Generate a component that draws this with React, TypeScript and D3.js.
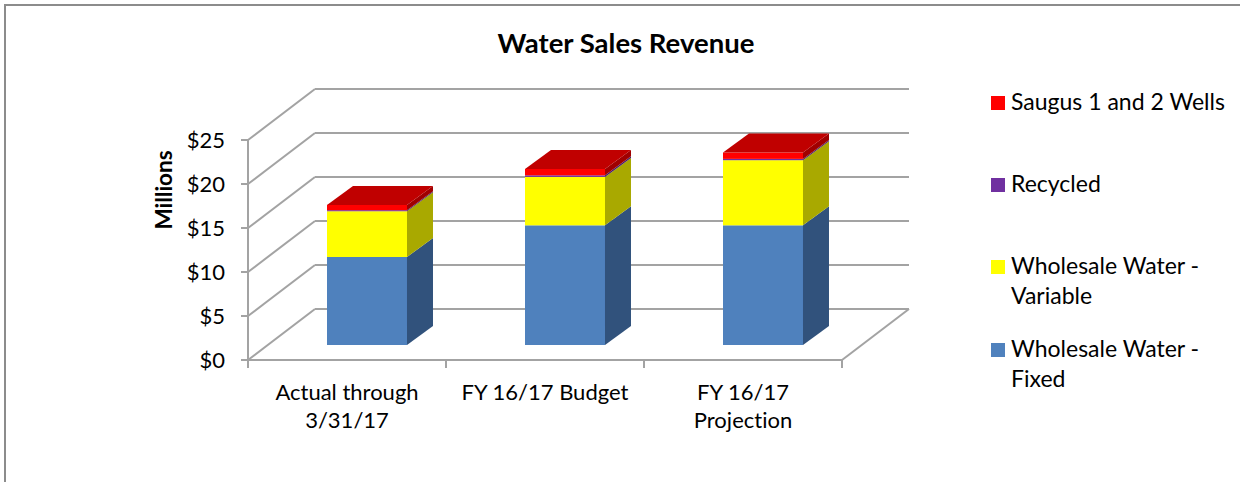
import React from "react";
import * as d3 from "d3";

const categories = ["Actual through\n3/31/17", "FY 16/17 Budget", "FY 16/17\nProjection"];
const seriesNames = ["Wholesale Water - Fixed", "Wholesale Water - Variable", "Recycled", "Saugus 1 and 2 Wells"];
const fixedValues = [10.0, 13.6, 13.6];
const variableValues = [5.2, 5.5, 7.4];
const recycledValues = [0.12, 0.18, 0.15];
const saugusValues = [0.6, 0.72, 0.72];
const yTicks = [0, 5, 10, 15, 20, 25];

const frontColors = ["#4F81BD", "#FFFF00", "#7030A0", "#FF0000"];
const sideColors = ["#31527C", "#A9A900", "#4A1F6B", "#A00000"];
const topColors = ["#6F95C8", "#CCCC00", "#8A4AB8", "#C00000"];

const legendItems = [
  { name: "Saugus 1 and 2 Wells", lines: ["Saugus 1 and 2 Wells"], color: "#FF0000" },
  { name: "Recycled", lines: ["Recycled"], color: "#7030A0" },
  { name: "Wholesale Water - Variable", lines: ["Wholesale Water -", "Variable"], color: "#FFFF00" },
  { name: "Wholesale Water - Fixed", lines: ["Wholesale Water -", "Fixed"], color: "#4F81BD" },
];

const FONT = "Lato, 'Open Sans', sans-serif";
const GRID = "#A3A3A3";

export default function App() {
  const W = 1240, H = 482;
  const x0 = 248, x1 = 842;
  const depthX = 67, depthY = 51;
  const barShiftX = 20, barShiftY = 15;
  const barDepthX = 26, barDepthY = 19;

  const y = d3.scaleLinear().domain([0, 25]).range([360, 140]);
  const x = d3.scaleBand<string>().domain(categories).range([x0, x1]).paddingInner(0.596).paddingOuter(0.298);
  const xTick = d3.scaleLinear().domain([0, categories.length]).range([x0, x1]);

  const rows = categories.map((c, i) => ({
    cat: c,
    s0: fixedValues[i],
    s1: variableValues[i],
    s2: recycledValues[i],
    s3: saugusValues[i],
  }));
  const stack = d3.stack<any>().keys(["s0", "s1", "s2", "s3"])(rows);

  const bw = x.bandwidth();

  const bars: React.ReactNode[] = [];
  categories.forEach((c, ci) => {
    const bx = (x(c) as number) + barShiftX;
    const nLayers = stack.length;
    stack.forEach((layer, li) => {
      const d = layer[ci];
      const yb = y(d[0]) - barShiftY;
      const yt = y(d[1]) - barShiftY;
      const side = `M${bx + bw},${yb} L${bx + bw + barDepthX},${yb - barDepthY} L${bx + bw + barDepthX},${yt - barDepthY} L${bx + bw},${yt} Z`;
      bars.push(
        <g key={`b${ci}-${li}`}>
          <rect x={bx} y={yt} width={bw} height={Math.max(0, yb - yt)} fill={frontColors[li]} />
          <path d={side} fill={sideColors[li]} />
        </g>
      );
      if (li === nLayers - 1) {
        const top = `M${bx},${yt} L${bx + bw},${yt} L${bx + bw + barDepthX},${yt - barDepthY} L${bx + barDepthX},${yt - barDepthY} Z`;
        bars.push(<path key={`t${ci}`} d={top} fill={topColors[li]} />);
      }
    });
  });

  return (
    <svg width={W} height={H} style={{ position: "absolute", left: 0, top: 0, display: "block", background: "#fff", fontVariantLigatures: "none" }} fontFamily={FONT}>
      <rect x={5} y={5} width={W + 10} height={H + 10} fill="#fff" stroke="#8C8C8C" strokeWidth={2} />
      <text x={626} y={53} textAnchor="middle" fontWeight="bold" fontSize={27.5} fill="#000">Water Sales Revenue</text>

      {/* side wall diagonals and back wall gridlines */}
      {yTicks.map((t) => (
        <g key={`g${t}`}>
          <line x1={x0} y1={y(t)} x2={x0 + depthX} y2={y(t) - depthY} stroke={GRID} strokeWidth={2} />
          <line x1={x0 + depthX} y1={y(t) - depthY} x2={x1 + depthX} y2={y(t) - depthY} stroke={GRID} strokeWidth={2} />
        </g>
      ))}
      {/* floor */}
      <line x1={x1} y1={y(0)} x2={x1 + depthX} y2={y(0) - depthY} stroke={GRID} strokeWidth={2} />
      <line x1={x0} y1={y(0)} x2={x1} y2={y(0)} stroke={GRID} strokeWidth={2} />
      {/* y axis */}
      <line x1={x0} y1={y(25)} x2={x0} y2={y(0)} stroke={GRID} strokeWidth={2} />
      {yTicks.map((t) => (
        <g key={`yt${t}`}>
          <line x1={x0 - 7} y1={y(t)} x2={x0} y2={y(t)} stroke={GRID} strokeWidth={2} />
          <text x={225} y={y(t) + 8} textAnchor="end" fontSize={22} fill="#000">{`$${t}`}</text>
        </g>
      ))}
      {d3.range(categories.length + 1).map((i) => (
        <line key={`xt${i}`} x1={xTick(i)} y1={y(0)} x2={xTick(i)} y2={y(0) + 8} stroke={GRID} strokeWidth={2} />
      ))}
      <text transform={`translate(172,190) rotate(-90)`} textAnchor="middle" fontWeight="bold" fontSize={22.5} fill="#000">Millions</text>

      {bars}

      {categories.map((c, i) => {
        const cx = (xTick(i) + xTick(i + 1)) / 2;
        return (
          <text key={`cl${i}`} textAnchor="middle" fontSize={22} fill="#000">
            {c.split("\n").map((ln, k) => (
              <tspan key={k} x={cx} y={400 + k * 28}>{ln}</tspan>
            ))}
          </text>
        );
      })}

      {legendItems.map((it, i) => {
        const baseYs = [110, 192, 274, 357];
        const by = baseYs[i];
        return (
          <g key={`lg${i}`}>
            <rect x={991} y={by - 14} width={14} height={14} fill={it.color} />
            <text fontSize={23} fill="#000">
              {it.lines.map((ln, k) => (
                <tspan key={k} x={1011} y={by + k * 30}>{ln}</tspan>
              ))}
            </text>
          </g>
        );
      })}
    </svg>
  );
}
